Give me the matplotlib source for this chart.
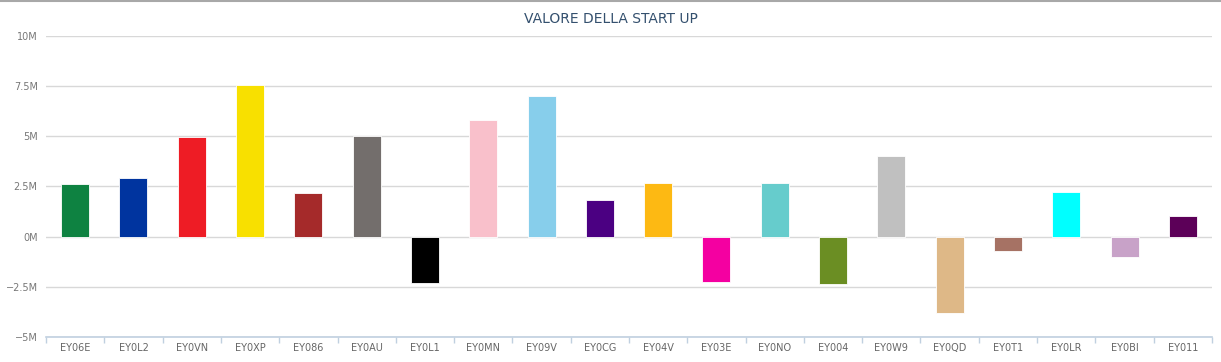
import matplotlib.pyplot as plt
import numpy as np
from matplotlib.lines import Line2D
from matplotlib.ticker import FuncFormatter

# data (values in millions)
codes = ["EY06E", "EY0L2", "EY0VN", "EY0XP", "EY086", "EY0AU", "EY0L1", "EY0MN",
         "EY09V", "EY0CG", "EY04V", "EY03E", "EY0NO", "EY004", "EY0W9", "EY0QD",
         "EY0T1", "EY0LR", "EY0BI", "EY011"]
values = [2.62, 2.92, 4.95, 7.55, 2.2, 5.02, -2.3, 5.8, 7.02, 1.85,
          2.68, -2.25, 2.68, -2.35, 4.02, -3.8, -0.7, 2.22, -1.0, 1.03]
colors = ["#0E8241", "#00349F", "#EE1C25", "#F8E000", "#A52A2A", "#736E6C",
          "#000000", "#F9C0CB", "#87CEEB", "#4B0082", "#FDB913", "#F400A1",
          "#66CCCC", "#6B8E23", "#C0C0C0", "#DEB887", "#A67264", "#00FFFF",
          "#C8A2C8", "#5C0058"]
yticks = [-5, -2.5, 0, 2.5, 5, 7.5, 10]

fig = plt.figure(figsize=(12.21, 3.62), dpi=100)
ax = fig.add_axes([0.0377, 0.0691, 0.9549, 0.8315])

x = np.arange(len(codes))
ax.bar(x, values, width=0.48, color=colors, edgecolor="white", linewidth=0.6, zorder=3)

ax.set_xlim(-0.5, len(codes) - 0.5)
ax.set_ylim(-5, 10)
ax.set_yticks(yticks)

def fmt(v, pos):
    s = ("%g" % abs(v)) + "M"
    return ("\u2212" + s) if v < 0 else s

ax.yaxis.set_major_formatter(FuncFormatter(fmt))
ax.grid(axis="y", color="#D8D8D8", linewidth=1, zorder=0)
ax.set_axisbelow(True)

for side in ["top", "right", "left"]:
    ax.spines[side].set_visible(False)
ax.spines["bottom"].set_color("#C0D0E0")
ax.spines["bottom"].set_linewidth(1.2)

ax.set_xticks(x)
ax.set_xticklabels(codes)
ax.set_xticks(np.arange(len(codes) + 1) - 0.5, minor=True)
ax.tick_params(axis="x", which="major", length=0, labelsize=7, labelcolor="#666666", pad=4)
ax.tick_params(axis="x", which="minor", length=4, color="#C0D0E0", width=1)
ax.tick_params(axis="y", length=0, labelsize=7, labelcolor="#777777", pad=6)

fig.text(0.5, 0.947, "VALORE DELLA START UP", ha="center", va="center",
         fontsize=10, color="#34506E")

# grey border on top
fig.add_artist(Line2D([0, 1], [0.997, 0.997], color="#A8A8A8", linewidth=1.5,
                      transform=fig.transFigure))

plt.savefig("out.png", dpi=100)
